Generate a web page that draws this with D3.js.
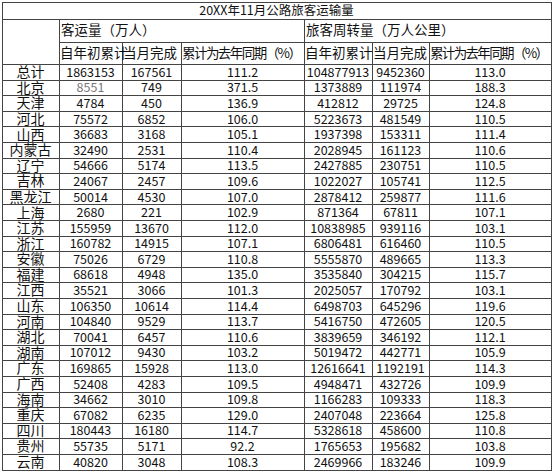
<!DOCTYPE html>
<html><head><meta charset="utf-8">
<script src="https://cdn.jsdelivr.net/npm/d3@7/dist/d3.min.js"></script>
<style>body{margin:0;background:#fff}text{font-family:"Noto Sans CJK SC",sans-serif;fill:#111}</style>
</head><body><svg id="c" width="554" height="472"></svg>
<script>
const title = "20XX年11月公路旅客运输量";
const groups = ["客运量（万人）", "旅客周转量（万人公里）"];
const subHeads = ["自年初累计", "当月完成", "累计为去年同期（%）", "自年初累计", "当月完成", "累计为去年同期（%）"];
const regions = ["总计","北京","天津","河北","山西","内蒙古","辽宁","吉林","黑龙江","上海","江苏","浙江","安徽","福建","江西","山东","河南","湖北","湖南","广东","广西","海南","重庆","四川","贵州","云南"];
const paxCum = [1863153,8551,4784,75572,36683,32490,54666,24067,50014,2680,155959,160782,75026,68618,35521,106350,104840,70041,107012,169865,52408,34662,67082,180443,55735,40820];
const paxMonth = [167561,749,450,6852,3168,2531,5174,2457,4530,221,13670,14915,6729,4948,3066,10614,9529,6457,9430,15928,4283,3010,6235,16180,5171,3048];
const paxPct = ["111.2","371.5","136.9","106.0","105.1","110.4","113.5","109.6","107.0","102.9","112.0","107.1","110.8","135.0","101.3","114.4","113.7","110.6","103.2","113.0","109.5","109.8","129.0","114.7","92.2","108.3"];
const tkmCum = [104877913,1373889,412812,5223673,1937398,2028945,2427885,1022027,2878412,871364,10838985,6806481,5555870,3535840,2025057,6498703,5416750,3839659,5019472,12616641,4948471,1166283,2407048,5328618,1765653,2469966];
const tkmMonth = [9452360,111974,29725,481549,153311,161123,230751,105741,259877,67811,939116,616460,489665,304215,170792,645296,472605,346192,442771,1192191,432726,109333,223664,458600,195682,183246];
const tkmPct = ["113.0","188.3","124.8","110.5","111.4","110.6","110.5","112.5","111.6","107.1","103.1","110.5","113.3","115.7","103.1","119.6","120.5","112.1","105.9","114.3","109.9","118.3","125.8","110.8","103.8","109.9"];

const svg = d3.select("#c");
const colEdges = [2,59,122,181,304,372,429,551];
const tTop = 2, titleB = 19.5, h1B = 42, h2B = 64.6, tBottom = 470;
const y = d3.scaleBand().domain(regions).range([h2B, tBottom]);
const cols = [regions, paxCum, paxMonth, paxPct, tkmCum, tkmMonth, tkmPct];
const line = (x1,y1,x2,y2)=>svg.append("line").attr("x1",x1).attr("y1",y1).attr("x2",x2).attr("y2",y2).attr("stroke","#444").attr("stroke-width",1).attr("shape-rendering","crispEdges");

svg.append("rect").attr("x",colEdges[0]).attr("y",tTop).attr("width",colEdges[7]-colEdges[0]).attr("height",tBottom-tTop).attr("fill","none").attr("stroke","#444").attr("shape-rendering","crispEdges");
line(colEdges[0],titleB,colEdges[7],titleB);
line(colEdges[1],h1B,colEdges[7],h1B);
line(colEdges[0],h2B,colEdges[7],h2B);
regions.forEach(r=>line(colEdges[0],y(r)+y.bandwidth(),colEdges[7],y(r)+y.bandwidth()));
colEdges.slice(1,7).forEach((x,i)=>{
  const startY = (i===0||i===3) ? titleB : h1B;
  line(x,startY,x,tBottom);
});

svg.append("text").attr("x",(colEdges[0]+colEdges[7])/2).attr("y",(tTop+titleB)/2+1).attr("text-anchor","middle").attr("dominant-baseline","middle").attr("font-size",12.5).text(title);
groups.forEach((g,i)=>svg.append("text").attr("x",colEdges[i*3+1]+2).attr("y",(titleB+h1B)/2+1).attr("dominant-baseline","middle").attr("font-size",13.5).text(g));
subHeads.forEach((s,i)=>svg.append("text").attr("x",colEdges[i+1]+1).attr("y",(h1B+h2B)/2+1).attr("dominant-baseline","middle").attr("font-size",13.5).attr("textLength",s.length>6? colEdges[i+2]-colEdges[i+1]-3:null).text(s));

cols.forEach((arr,ci)=>{
  const cx = (colEdges[ci]+colEdges[ci+1])/2;
  svg.append("g").selectAll("text").data(arr).join("text")
    .attr("x",cx).attr("y",(d,i)=>y(regions[i])+y.bandwidth()/2+1)
    .attr("text-anchor","middle").attr("dominant-baseline","middle")
    .attr("font-size",ci===0?14:12.5)
    .style("fill",(d,i)=>(ci===1&&i===1)?"#777":"#111")
    .text(d=>d);
});
</script></body></html>
